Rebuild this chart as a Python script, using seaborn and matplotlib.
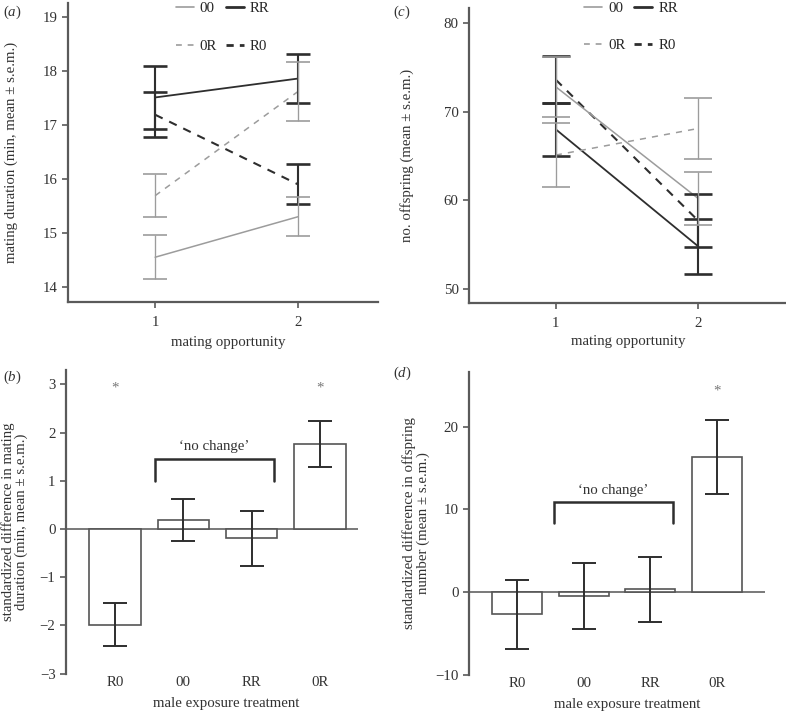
import numpy as np
import pandas as pd
import seaborn as sns
import matplotlib
matplotlib.use("Agg")
import matplotlib.pyplot as plt
from matplotlib.lines import Line2D

# ---------------- data ----------------
opportunity = [1, 2]
series = ["00", "RR", "0R", "R0"]

# (a) mating duration, mean and s.e.m.
dur_00 = [14.55, 15.30]
dur_00_sem = [0.41, 0.36]
dur_RR = [17.51, 17.86]
dur_RR_sem = [0.58, 0.45]
dur_0R = [15.69, 17.62]
dur_0R_sem = [0.40, 0.54]
dur_R0 = [17.19, 15.90]
dur_R0_sem = [0.42, 0.37]

# (c) number of offspring, mean and s.e.m.
off_00 = [72.8, 60.2]
off_00_sem = [3.42, 3.00]
off_RR = [68.0, 54.8]
off_RR_sem = [2.95, 3.10]
off_0R = [65.1, 68.1]
off_0R_sem = [3.60, 3.46]
off_R0 = [73.6, 57.7]
off_R0_sem = [2.65, 2.95]

# (b), (d) standardized differences
diff_treat = ["R0", "00", "RR", "0R"]
dur_diff = [-1.98, 0.19, -0.19, 1.77]
dur_diff_sem = [0.45, 0.44, 0.57, 0.48]
off_diff = [-2.70, -0.45, 0.32, 16.30]
off_diff_sem = [4.20, 4.00, 3.93, 4.46]

# ---------------- style ----------------
sns.set_style("ticks")
plt.rcParams["font.family"] = ["Liberation Serif", "DejaVu Serif"]
plt.rcParams["mathtext.fontset"] = "custom"
plt.rcParams["mathtext.rm"] = "Liberation Serif"
plt.rcParams["mathtext.it"] = "Liberation Serif:italic"
FS = 10.7
plt.rcParams["font.size"] = FS

LIGHT = "#9c9c9c"
DARK = "#2e2e2e"
SPINE = "#5a5a5a"
TXT = "#333333"

fig = plt.figure(figsize=(7.86, 7.12), dpi=100)
ax_a = fig.add_axes([0.0865, 0.5758, 0.3944, 0.4200])
ax_c = fig.add_axes([0.5967, 0.5744, 0.4020, 0.4144])
ax_b = fig.add_axes([0.0840, 0.0538, 0.3715, 0.4265])
ax_d = fig.add_axes([0.5967, 0.0524, 0.3766, 0.4251])

styles = {
    "00": dict(color=LIGHT, lw=1.1, ls="-", elw=1.2, hls="-"),
    "RR": dict(color=DARK, lw=1.3, ls="-", elw=1.9, hls="-"),
    "0R": dict(color=LIGHT, lw=1.1, ls=(0, (4, 4)), elw=1.2, hls=(0, (3.5, 3.5))),
    "R0": dict(color=DARK, lw=1.5, ls=(0, (4, 3.5)), elw=1.9, hls=(0, (2.6, 2.2))),
}
draw_order = ["R0", "RR", "00", "0R"]


def line_panel(ax, means, sems, capsize, leg_anchor):
    for name in draw_order:
        st = styles[name]
        df = pd.DataFrame({"opportunity": opportunity, "value": means[name]})
        sns.lineplot(data=df, x="opportunity", y="value", ax=ax, color=st["color"],
                     lw=st["lw"], linestyle=st["ls"], legend=False)
    for name in draw_order:
        st = styles[name]
        ax.errorbar(opportunity, means[name], yerr=sems[name], fmt="none",
                    ecolor=st["color"], elinewidth=st["elw"] * 0.8,
                    capsize=capsize, capthick=st["elw"])
    for s in ["top", "right"]:
        ax.spines[s].set_visible(False)
    for s in ["left", "bottom"]:
        ax.spines[s].set_color(SPINE)
        ax.spines[s].set_linewidth(1.6)
    ax.tick_params(axis="both", colors=SPINE, labelcolor=TXT, length=4, width=1.2,
                   labelsize=FS)
    ax.tick_params(axis="x", pad=6.0)
    ax.set_xticks(opportunity)
    ax.set_xticklabels([str(o) for o in opportunity])
    ax.set_xlabel("mating opportunity", fontsize=FS, color=TXT)
    order = ["00", "0R", "RR", "R0"]
    handles = [Line2D([], [], color=styles[k]["color"],
                      lw=1.2 if styles[k]["color"] == LIGHT else 2.0,
                      linestyle=styles[k]["hls"]) for k in order]
    ax.legend(handles, order, ncol=2, frameon=False,
              loc="upper left", bbox_to_anchor=leg_anchor, fontsize=FS,
              handlelength=1.2, handletextpad=0.4,
              columnspacing=0.6, labelspacing=1.62, borderpad=0, borderaxespad=0)


line_panel(ax_a,
           {"00": dur_00, "RR": dur_RR, "0R": dur_0R, "R0": dur_R0},
           {"00": dur_00_sem, "RR": dur_RR_sem, "0R": dur_0R_sem, "R0": dur_R0_sem},
           capsize=8.3, leg_anchor=(0.348, 1.003))
ax_a.set_xlim(0.39, 2.56)
ax_a.set_ylim(13.72, 19.26)
ax_a.set_yticks([14, 15, 16, 17, 18, 19])
ax_a.set_ylabel("mating duration (min, mean \u00b1 s.e.m.)", fontsize=FS, color=TXT)
ax_a.yaxis.set_label_coords(-0.16, 0.5)
ax_a.xaxis.set_label_coords(0.516, -0.112)

line_panel(ax_c,
           {"00": off_00, "RR": off_RR, "0R": off_0R, "R0": off_R0},
           {"00": off_00_sem, "RR": off_RR_sem, "0R": off_0R_sem, "R0": off_R0_sem},
           capsize=10, leg_anchor=(0.365, 1.022))
ax_c.set_xlim(0.39, 2.61)
ax_c.set_ylim(48.4, 81.7)
ax_c.set_yticks([50, 60, 70, 80])
ax_c.set_ylabel("no. offspring (mean \u00b1 s.e.m.)", fontsize=FS, color=TXT)
ax_c.yaxis.set_label_coords(-0.174, 0.5)
ax_c.xaxis.set_label_coords(0.503, -0.108)


def bar_panel(ax, vals, sems, bracket_x, bracket_y, bracket_drop, text_y, stars, star_y):
    df = pd.DataFrame({"treat": diff_treat, "value": vals})
    sns.barplot(data=df, x="treat", y="value", order=diff_treat, ax=ax, color="white",
                edgecolor="#555555", linewidth=1.2, width=0.75, saturation=1)
    ax.errorbar(np.arange(len(diff_treat)), vals, yerr=sems, fmt="none", ecolor=DARK,
                elinewidth=1.4, capsize=8.3, capthick=1.4)
    ax.axhline(0, color="#555555", lw=1.1, zorder=0.5)
    for s in ["top", "right", "bottom"]:
        ax.spines[s].set_visible(False)
    ax.spines["left"].set_color(SPINE)
    ax.spines["left"].set_linewidth(1.6)
    ax.tick_params(axis="y", colors=SPINE, labelcolor=TXT, length=4, width=1.2, labelsize=FS)
    ax.tick_params(axis="x", length=0, pad=2, labelcolor=TXT, labelsize=FS)
    ax.set_xlabel("male exposure treatment", fontsize=FS, color=TXT)
    bx0, bx1 = bracket_x
    ax.plot([bx0, bx0, bx1, bx1], [bracket_drop, bracket_y, bracket_y, bracket_drop],
            color=DARK, lw=1.8, solid_joinstyle="miter")
    ax.text((bx0 + bx1) / 2, text_y, "\u2018no change\u2019", ha="center", va="center",
            fontsize=FS, color=TXT)
    for i in stars:
        ax.text(i, star_y, "*", ha="center", va="center", fontsize=FS, color="#777777")


bar_panel(ax_b, dur_diff, dur_diff_sem, (0.59, 2.32), 1.457, 1.0, 1.71, [0, 3], 2.92)
ax_b.set_xlim(-0.717, 3.556)
ax_b.set_ylim(-3, 3.3)
ax_b.set_yticks([-3, -2, -1, 0, 1, 2, 3])
ax_b.set_yticklabels(["\u22123", "\u22122", "\u22121", "0", "1", "2", "3"])
ax_b.set_ylabel("standardized difference in mating\nduration (min, mean \u00b1 s.e.m.)",
                fontsize=FS, color=TXT, linespacing=1.0)
ax_b.yaxis.set_label_coords(-0.13, 0.5)
ax_b.xaxis.set_label_coords(0.55, -0.077)

bar_panel(ax_d, off_diff, off_diff_sem, (0.55, 2.34), 10.85, 8.3, 12.26, [3], 24.3)
ax_d.set_xlim(-0.72, 3.72)
ax_d.set_ylim(-10, 26.6)
ax_d.set_yticks([-10, 0, 10, 20])
ax_d.set_yticklabels(["\u221210", "0", "10", "20"])
ax_d.set_ylabel("standardized difference in offspring\nnumber (mean \u00b1 s.e.m.)",
                fontsize=FS, color=TXT, linespacing=1.0)
ax_d.yaxis.set_label_coords(-0.132, 0.5)
ax_d.xaxis.set_label_coords(0.534, -0.077)

# panel letters
for x, y, lab in [(0.004, 1 - 12 / 712, "a"), (0.50, 1 - 12 / 712, "c"),
                  (0.004, 1 - 377 / 712, "b"), (0.50, 1 - 373 / 712, "d")]:
    fig.text(x, y, "($" + lab + "$)", fontsize=FS, color=TXT, va="center", ha="left")

fig.savefig("out.png", dpi=100, facecolor="white")
